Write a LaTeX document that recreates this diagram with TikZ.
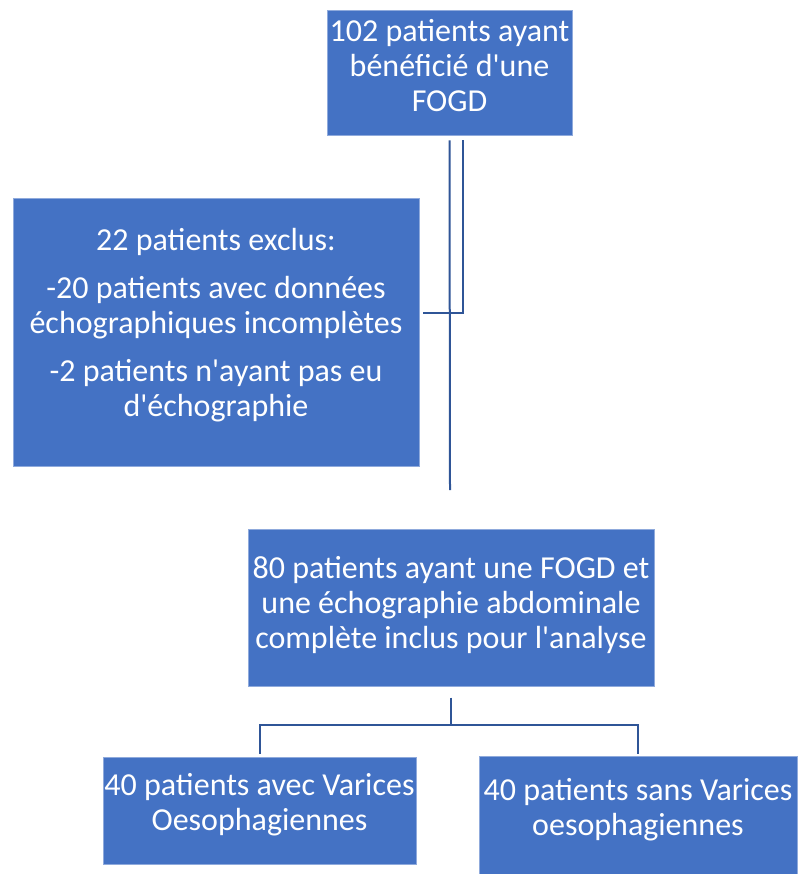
\documentclass[tikz,border=0pt]{standalone}
\usepackage{fontspec}
\setmainfont{Carlito}[Ligatures=TeXOff]
\definecolor{boxfill}{RGB}{68,114,196}
\definecolor{boxline}{RGB}{143,170,220}
\definecolor{connc}{RGB}{47,85,151}
\begin{document}
\begin{tikzpicture}[x=1pt,y=-1pt,
  box/.style={rectangle, fill=boxfill, draw=boxline, line width=1pt, inner sep=0pt},
  txt/.style={text=white, align=center, inner sep=0pt, font=\fontsize{32}{35}\selectfont},
  conn/.style={draw=connc, line width=2pt}]
\useasboundingbox (0,0) rectangle (797,874);
\node[box, minimum width=245pt, minimum height=125pt] (b1) at (449.5,73.5) {};
\node[txt] (t1) at ([yshift=8pt]b1.center)
  {102 patients ayant\\bénéficié d'une\\FOGD};
\node[box, minimum width=406pt, minimum height=267pt] (b2) at (216,332.5) {};
\node[txt] (t2) at ([yshift=7pt]b2.center)
  {22 patients exclus:\\[13pt]-20 patients avec données\\échographiques incomplètes\\[13pt]-2 patients n'ayant pas eu\\d'échographie};
\node[box, minimum width=406pt, minimum height=157pt] (b3) at (451,607.5) {};
\node[txt] (t3) at ([yshift=2pt]b3.center)
  {80 patients ayant une FOGD et\\une échographie abdominale\\complète inclus pour l'analyse};
\node[box, minimum width=313pt, minimum height=107pt] (b4) at (259.5,810.5) {};
\node[txt] (t4) at ([yshift=6pt]b4.center)
  {40 patients avec Varices\\Oesophagiennes};
\node[box, minimum width=318pt, minimum height=118pt] (b5) at (638,815) {};
\node[txt] (t5) at ([yshift=5pt]b5.center)
  {40 patients sans Varices\\oesophagiennes};
\coordinate (e1) at (450,490);
\coordinate (j) at (451,725);
\draw[conn] ([yshift=-4pt]b1.south) -- (e1);
\draw[conn] ([xshift=13pt,yshift=-4pt]b1.south) |- ([xshift=3pt,yshift=19.5pt]b2.east);
\draw[conn] ([yshift=-11pt]b3.south) -- (j);
\draw[conn] ([yshift=3pt]b4.north) |- (j) -| ([yshift=2pt]b5.north);
\end{tikzpicture}
\end{document}
